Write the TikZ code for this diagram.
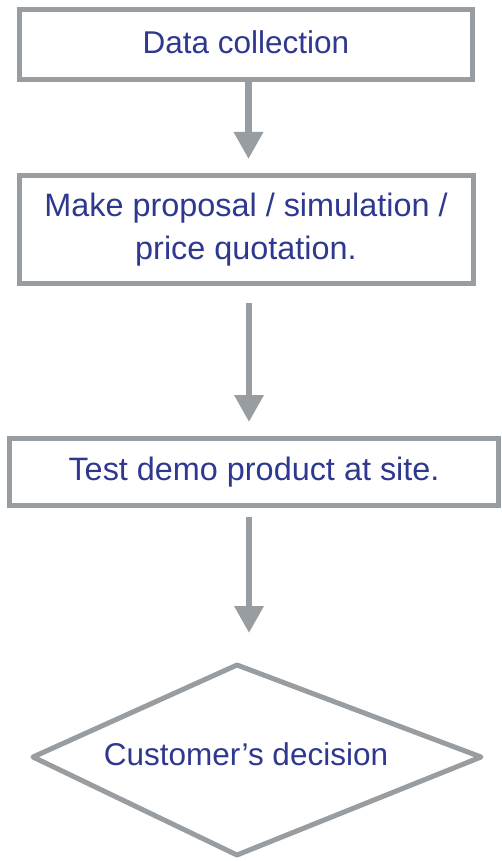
\documentclass[tikz,border=0pt]{standalone}
\usepackage{fontspec}
\setmainfont{Liberation Sans}
\usetikzlibrary{shapes,arrows.meta,positioning}

\definecolor{flowgray}{RGB}{152,157,161}
\definecolor{textblue}{RGB}{46,56,142}

\tikzset{
    stage/.style={rectangle, draw=flowgray, line width=5pt, align=center,
        text=textblue, font=\fontsize{31.5pt}{43pt}\selectfont},
    flow/.style={draw=flowgray, line width=6.5pt,
        -{Triangle[width=28pt,length=27pt]}, flowgray},
}

\begin{document}
\begin{tikzpicture}
    \useasboundingbox (0,0) rectangle (501pt,-861pt);

    	%-----Steps-----
        % Data Collection Step
        \node [stage, minimum width=453pt, minimum height=70pt] (collect) at (246pt,-44.5pt) {%
            \strut Data collection%
        };

        % Proposal Step
        \node [stage, below=91pt of collect, minimum width=454pt, minimum height=108pt,
            font=\fontsize{32.4pt}{43pt}\selectfont] (proposal) {%
            Make proposal / simulation / \\
            price quotation.%
        };

        % Demo Step
        \node [stage, below=150pt of proposal, xshift=8pt, minimum width=489pt, minimum height=67pt,
            font=\fontsize{32.4pt}{43pt}\selectfont] (demo) {%
            Test demo product at site.%
        };

        % Decision Step
        \coordinate (dtop) at (237pt,-665pt);
        \coordinate (dleft) at (33pt,-757pt);
        \coordinate (dbottom) at (237pt,-855pt);
        \coordinate (dright) at (481pt,-757pt);
        \draw [draw=flowgray, line width=5pt, line join=round] (dtop) -- (dright) -- (dbottom) -- (dleft) -- cycle;
        \node [text=textblue, font=\fontsize{31.5pt}{43pt}\selectfont] (decision) at (246pt,-754pt) {%
            Customer's decision%
        };

        %-----Arrows-----
        \draw [flow, shorten >=14pt] ([xshift=2.5pt]collect.south) -- ([xshift=2.5pt]collect.south |- proposal.north);
        \draw [flow, shorten <=17pt, shorten >=14pt] ([xshift=3pt]proposal.south) -- ([xshift=3pt]proposal.south |- demo.north);
        \draw [flow, shorten <=9pt, shorten >=32pt] ([xshift=-5pt]demo.south) -- ([xshift=-5pt]demo.south |- dtop);

    \end{tikzpicture}
\end{document}
